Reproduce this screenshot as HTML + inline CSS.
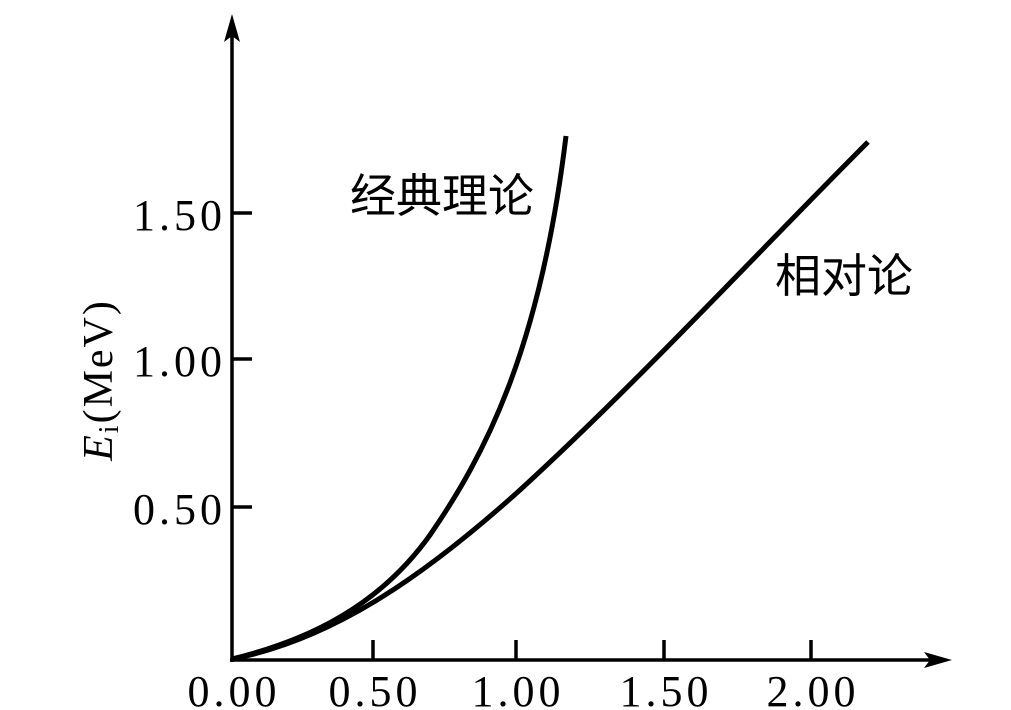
<!DOCTYPE html>
<html><head><meta charset="utf-8"><style>body{margin:0;background:#fff}</style></head><body>
<svg width="1011" height="710" xmlns="http://www.w3.org/2000/svg" style="display:block">
<g stroke="#000" stroke-width="3.5" fill="none">
<line x1="232" y1="662" x2="232" y2="30"/>
<line x1="230" y1="660" x2="938" y2="660"/>
<line x1="373" y1="660" x2="373" y2="640"/>
<line x1="516" y1="660" x2="516" y2="640"/>
<line x1="664" y1="660" x2="664" y2="640"/>
<line x1="811" y1="660" x2="811" y2="640"/>
<line x1="232" y1="213" x2="252" y2="213"/>
<line x1="232" y1="359" x2="252" y2="359"/>
<line x1="232" y1="507" x2="252" y2="507"/>
<path stroke-width="5" d="M232,659 C310,640 380,605 430,535 C485,455 540,350 566,136"/>
<path stroke-width="5" d="M232,659 C330,640 420,580 520,490 C640,380 760,250 868,142"/>
</g>
<polygon points="232,14 224,42 232,36 240,42" fill="#000"/>
<polygon points="952,660 924,652 930,660 924,668" fill="#000"/>
<g font-family="Liberation Serif, serif" font-size="44" fill="#000" letter-spacing="4">
<text x="226" y="230" text-anchor="end">1.50</text>
<text x="226" y="376" text-anchor="end">1.00</text>
<text x="226" y="524" text-anchor="end">0.50</text>
<text x="234" y="706" text-anchor="middle">0.00</text>
<text x="375" y="706" text-anchor="middle">0.50</text>
<text x="518" y="706" text-anchor="middle">1.00</text>
<text x="666" y="706" text-anchor="middle">1.50</text>
<text x="813" y="706" text-anchor="middle">2.00</text>
<text transform="translate(112,380) rotate(-90)" text-anchor="middle" font-size="42" letter-spacing="2"><tspan font-style="italic">E</tspan><tspan font-size="28" dy="6">i</tspan><tspan dy="-6">(MeV)</tspan></text>
</g>
<g font-family="Liberation Sans, 'Noto Sans CJK SC', sans-serif" font-size="46" fill="#000">
<text x="350" y="212">经典理论</text>
<text x="775" y="292">相对论</text>
</g>
</svg>
</body></html>
